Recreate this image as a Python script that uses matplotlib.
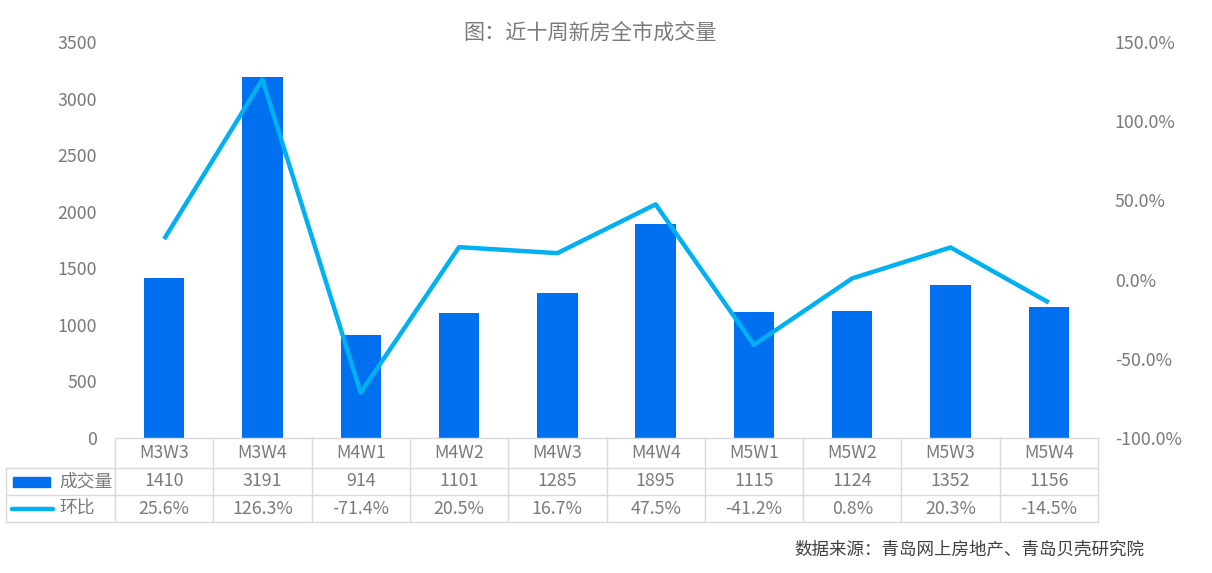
import matplotlib.pyplot as plt
from matplotlib.lines import Line2D
from matplotlib.patches import Rectangle

plt.rcParams['font.family'] = ['Noto Sans CJK SC', 'DejaVu Sans']

weeks = ["M3W3", "M3W4", "M4W1", "M4W2", "M4W3", "M4W4", "M5W1", "M5W2", "M5W3", "M5W4"]
volume = [1410, 3191, 914, 1101, 1285, 1895, 1115, 1124, 1352, 1156]
change = [25.6, 126.3, -71.4, 20.5, 16.7, 47.5, -41.2, 0.8, 20.3, -14.5]

bar_color = "#0070F0"
line_color = "#00B0F0"
text_color = "#7A7A7A"
grid_color = "#D9D9D9"

W, H = 1212, 573
fig = plt.figure(figsize=(W / 100, H / 100), dpi=100)
left, right, top, bottom = 115, 1098, 42, 438
ax = fig.add_axes([left / W, 1 - bottom / H, (right - left) / W, (bottom - top) / H])
ax2 = ax.twinx()

x = list(range(len(weeks)))
ax.bar(x, volume, width=0.41, color=bar_color, zorder=2)
ax2.plot(x, change, color=line_color, linewidth=3.2, solid_capstyle="butt", zorder=3)

ax.set_xlim(-0.5, len(weeks) - 0.5)
ax.set_ylim(0, 3500)
ax.set_yticks(range(0, 3501, 500))
ax2.set_ylim(-100, 150)
ax2.set_yticks(range(-100, 151, 50))
ax2.set_yticklabels([f"{v:.1f}%" for v in range(-100, 151, 50)])

for a in (ax, ax2):
    for s in a.spines.values():
        s.set_visible(False)
    a.tick_params(length=0, labelsize=12.8, labelcolor=text_color)
ax.tick_params(axis="y", pad=13)
ax2.tick_params(axis="y", pad=12)
ax.set_xticks([])
ax2.set_zorder(ax.get_zorder() + 1)
ax2.patch.set_visible(False)

# data table below the axes, drawn in pixel coordinates
def px(xp, yp):
    return xp / W, 1 - yp / H

col_w = (right - left) / len(weeks)
rows = [438, 468, 495, 522]
table_left = 6

def hline(y, x0, x1):
    fig.add_artist(Line2D([x0 / W, x1 / W], [1 - y / H, 1 - y / H], color=grid_color, lw=1))

def vline(xp, y0, y1):
    fig.add_artist(Line2D([xp / W, xp / W], [1 - y0 / H, 1 - y1 / H], color=grid_color, lw=1))

hline(rows[0], left, right)
for y in rows[1:]:
    hline(y, table_left, right)
vline(table_left, rows[1], rows[3])
for i in range(len(weeks) + 1):
    vline(left + i * col_w, rows[0], rows[3])

for i, wk in enumerate(weeks):
    cx = (left + (i + 0.5) * col_w) / W
    fig.text(cx, 1 - (rows[0] + rows[1]) / 2 / H, wk, ha="center", va="center",
             fontsize=12.8, color=text_color)
    fig.text(cx, 1 - (rows[1] + rows[2]) / 2 / H, str(volume[i]), ha="center", va="center",
             fontsize=12.8, color=text_color)
    fig.text(cx, 1 - (rows[2] + rows[3]) / 2 / H, f"{change[i]:.1f}%", ha="center", va="center",
             fontsize=12.8, color=text_color)

fig.add_artist(Rectangle(px(13, 487), 37 / W, 10 / H, color=bar_color))
fig.add_artist(Line2D([12 / W, 53 / W], [1 - 509 / H] * 2, color=line_color, lw=3.2,
                      solid_capstyle="round"))
fig.text(59 / W, 1 - (rows[1] + rows[2]) / 2 / H, "成交量", ha="left", va="center",
         fontsize=12.8, color=text_color)
fig.text(59 / W, 1 - (rows[2] + rows[3]) / 2 / H, "环比", ha="left", va="center",
         fontsize=12.8, color=text_color)

fig.text(590 / W, 1 - 33 / H, "图：近十周新房全市成交量", ha="center", va="center",
         fontsize=15.2, color="#7A7A7A")
fig.text(1144 / W, 1 - 550 / H, "数据来源：青岛网上房地产、青岛贝壳研究院", ha="right", va="center",
         fontsize=12.6, color="#404040")

fig.savefig("out.png", dpi=100)
